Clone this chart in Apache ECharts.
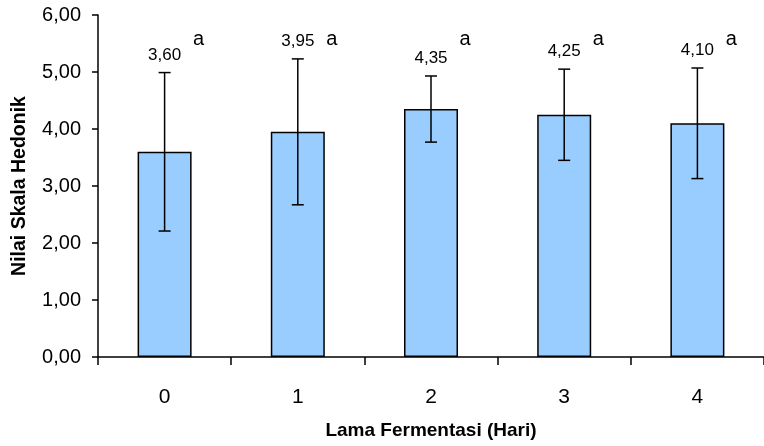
<!DOCTYPE html>
<html>
<head>
<meta charset="utf-8">
<script src="https://cdn.jsdelivr.net/npm/echarts@6/dist/echarts.min.js"></script>
<style>
html,body{margin:0;padding:0;background:#fff;}
#chart{width:764px;height:446px;}
</style>
</head>
<body>
<div id="chart"></div>
<script>
const categories = ['0', '1', '2', '3', '4'];
const means = [3.60, 3.95, 4.35, 4.25, 4.10];
const errors = [1.39, 1.28, 0.58, 0.80, 0.97];
const letters = ['a', 'a', 'a', 'a', 'a'];
const yMin = 0, yMax = 6, yStep = 1;
const xTitle = 'Lama Fermentasi (Hari)';
const yTitle = 'Nilai Skala Hedonik';

const FONT = "'Liberation Sans', Arial, Helvetica, sans-serif";
const fmt = v => v.toFixed(2).replace('.', ',');

const chart = echarts.init(document.getElementById('chart'));
chart.setOption({
  animation: false,
  backgroundColor: '#fff',
  grid: { left: 98, top: 15, width: 675, height: 342, containLabel: false },
  xAxis: {
    type: 'category',
    data: categories,
    boundaryGap: true,
    axisLine: { lineStyle: { color: '#000', width: 1.5 } },
    axisTick: { show: true, interval: 0, alignWithLabel: false, length: 8, lineStyle: { color: '#000', width: 1.5 } },
    axisLabel: { margin: 30, color: '#000', fontSize: 21, fontFamily: FONT },
    name: xTitle,
    nameLocation: 'middle',
    nameGap: 64,
    nameTextStyle: { color: '#000', fontSize: 19, fontWeight: 'bold', fontFamily: FONT },
    splitLine: { show: false }
  },
  yAxis: {
    type: 'value',
    min: yMin, max: yMax, interval: yStep,
    axisLine: { show: true, lineStyle: { color: '#000', width: 1.5 } },
    axisTick: { show: true, length: 6, lineStyle: { color: '#000', width: 1.5 } },
    axisLabel: { margin: 17, color: '#000', fontSize: 20, fontFamily: FONT, formatter: v => fmt(v) },
    splitLine: { show: false },
    name: yTitle,
    nameLocation: 'middle',
    nameGap: 68,
    nameRotate: 90,
    nameTextStyle: { color: '#000', fontSize: 19.5, fontWeight: 'bold', fontFamily: FONT }
  },
  series: [
    {
      type: 'bar',
      data: means,
      barWidth: 54,
      itemStyle: { color: '#99CCFF', borderColor: '#000', borderWidth: 1.5 },
      z: 2
    },
    {
      type: 'custom',
      z: 5,
      clip: false,
      encode: { x: 0, y: 1 },
      data: means.map((m, i) => [i, m, errors[i]]),
      renderItem: function (params, api) {
        const i = api.value(0), m = api.value(1), e = api.value(2);
        const top = api.coord([i, m + e]);
        const bot = api.coord([i, m - e]);
        const axTop = api.coord([i, yMax]);
        const half = 6;
        const st = { stroke: '#000', lineWidth: 1.5 };
        return {
          type: 'group',
          children: [
            { type: 'line', shape: { x1: top[0], y1: top[1], x2: bot[0], y2: bot[1] }, style: st },
            { type: 'line', shape: { x1: top[0] - half, y1: top[1], x2: top[0] + half, y2: top[1] }, style: st },
            { type: 'line', shape: { x1: bot[0] - half, y1: bot[1], x2: bot[0] + half, y2: bot[1] }, style: st },
            { type: 'text', style: { text: fmt(m), x: top[0], y: top[1] - 9, align: 'center', verticalAlign: 'bottom', fontSize: 17, fontFamily: FONT, fill: '#000' } },
            { type: 'text', style: { text: letters[params.dataIndex], x: axTop[0] + 34, y: axTop[1] + 24, align: 'center', verticalAlign: 'middle', fontSize: 20, fontFamily: FONT, fill: '#000' } }
          ]
        };
      }
    }
  ]
});
</script>
</body>
</html>
